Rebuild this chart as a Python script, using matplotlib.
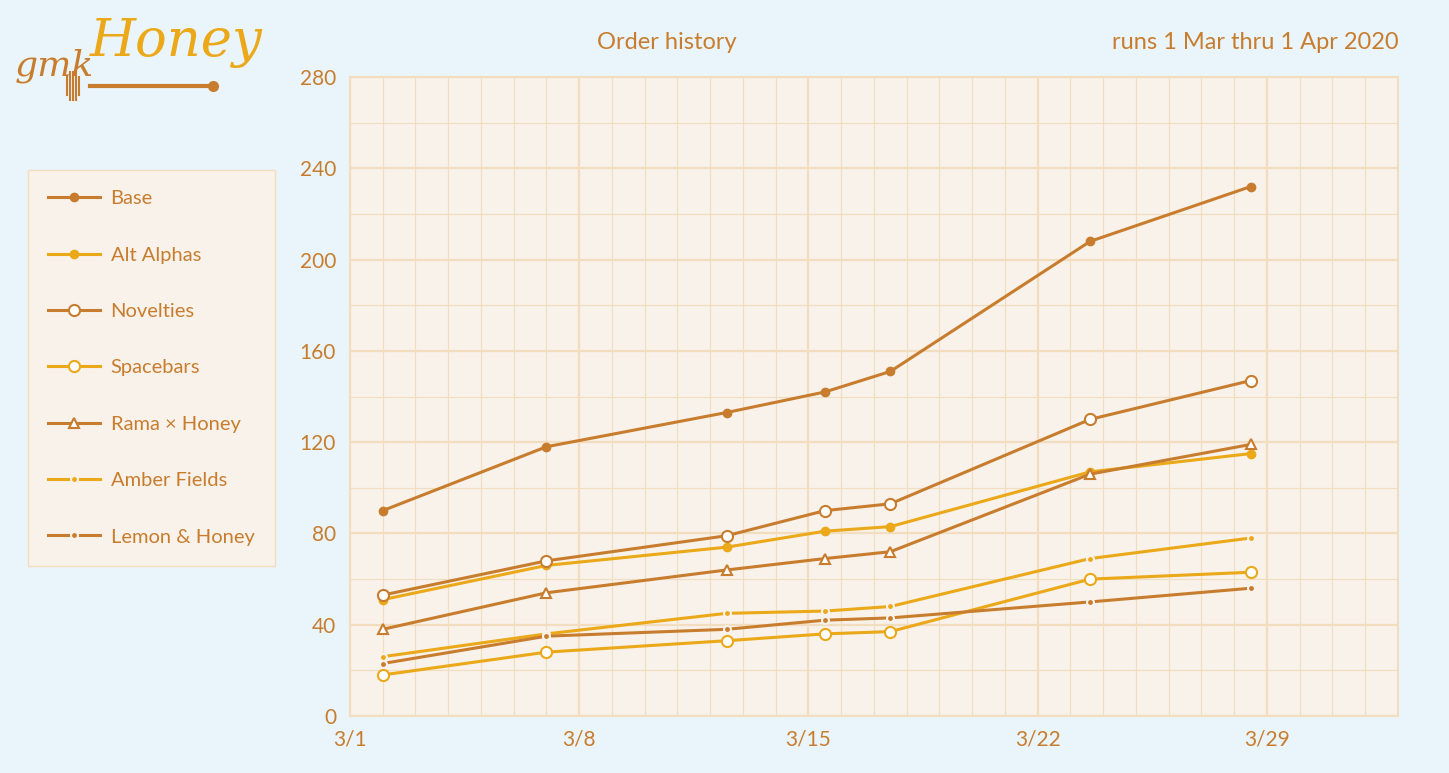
import matplotlib.pyplot as plt
import matplotlib.dates as mdates
from matplotlib.ticker import MultipleLocator
import datetime as dt

plt.rcParams['font.family'] = ['Lato', 'DejaVu Sans']

# 数据 (天数偏移自 3/1)
day_offsets = [1.0, 6.0, 11.5, 14.5, 16.5, 22.6, 27.5]
base = [90, 118, 133, 142, 151, 208, 232]
alt_alphas = [51, 66, 74, 81, 83, 107, 115]
novelties = [53, 68, 79, 90, 93, 130, 147]
spacebars = [18, 28, 33, 36, 37, 60, 63]
rama = [38, 54, 64, 69, 72, 106, 119]
amber = [26, 36, 45, 46, 48, 69, 78]
lemon = [23, 35, 38, 42, 43, 50, 56]
tick_days = [0, 7, 14, 21, 28]

DARK = '#C87D2E'
GOLD = '#EBA818'
BG = '#EAF4FB'
PBG = '#F8F2EA'
GRID = '#F3DDBF'

start = dt.datetime(2020, 3, 1)
dates = [start + dt.timedelta(days=d) for d in day_offsets]

fig = plt.figure(figsize=(14.49, 7.73), dpi=100)
fig.patch.set_facecolor(BG)
ax = fig.add_axes([0.2415, 0.0737, 0.7233, 0.8266])
ax.set_facecolor(PBG)

series = [
    ('Base', base, DARK, dict(marker='o', ms=6, mfc=DARK, mec=DARK)),
    ('Alt Alphas', alt_alphas, GOLD, dict(marker='o', ms=6, mfc=GOLD, mec=GOLD)),
    ('Novelties', novelties, DARK, dict(marker='o', ms=8, mfc='white', mec=DARK, mew=1.5)),
    ('Spacebars', spacebars, GOLD, dict(marker='o', ms=8, mfc='white', mec=GOLD, mew=1.5)),
    ('Rama × Honey', rama, DARK, dict(marker='^', ms=7, mfc='white', mec=DARK, mew=1.5)),
    ('Amber Fields', amber, GOLD, dict(marker='o', ms=5, mfc=GOLD, mec=PBG, mew=1.5)),
    ('Lemon & Honey', lemon, DARK, dict(marker='o', ms=5, mfc=DARK, mec=PBG, mew=1.5)),
]
for name, vals, col, mk in series:
    ax.plot(dates, vals, color=col, lw=2.2, label=name, zorder=3, **mk)

ax.set_xlim(start, dt.datetime(2020, 4, 2))
ax.set_ylim(0, 280)
ax.set_xticks([start + dt.timedelta(days=d) for d in tick_days])
ax.xaxis.set_minor_locator(mdates.DayLocator())
ax.xaxis.set_major_formatter(mdates.DateFormatter('%-m/%-d'))
ax.yaxis.set_major_locator(MultipleLocator(40))
ax.yaxis.set_minor_locator(MultipleLocator(20))
ax.grid(which='major', color=GRID, lw=1.6, zorder=0)
ax.grid(which='minor', color=GRID, lw=0.8, zorder=0)
ax.tick_params(which='both', length=0, colors=DARK, labelsize=15, pad=10)
for s in ax.spines.values():
    s.set_color(GRID)
    s.set_linewidth(1.5)

fig.text(0.46, 0.945, 'Order history', color=DARK, fontsize=17, ha='center', va='center')
fig.text(0.965, 0.945, 'runs 1 Mar thru 1 Apr 2020', color=DARK, fontsize=17, ha='right', va='center')

leg = fig.legend(loc='upper left', bbox_to_anchor=(0.0193, 0.78), fontsize=14.5,
                 labelspacing=1.95, handlelength=2.6, handletextpad=0.5,
                 borderpad=1.0, borderaxespad=0,
                 facecolor=PBG, edgecolor=GRID, framealpha=1, fancybox=False)
for t in leg.get_texts():
    t.set_color(DARK)

# 标志
fig.text(0.010, 0.915, 'gmk', color=DARK, fontsize=26, fontstyle='italic',
         family='DejaVu Serif', ha='left', va='center')
fig.text(0.062, 0.945, 'Honey', color=GOLD, fontsize=38, fontstyle='italic',
         family='DejaVu Serif', ha='left', va='center')
fig.add_artist(plt.Line2D([0.062, 0.146], [0.889, 0.889], color=DARK, lw=3,
                          transform=fig.transFigure))
fig.add_artist(plt.Line2D([0.147], [0.889], color=DARK, marker='o', ms=7,
                          transform=fig.transFigure))
for i in range(5):
    x = 0.046 + i * 0.0022
    h = 0.012 if i in (0, 4) else 0.018
    fig.add_artist(plt.Line2D([x, x], [0.889 - h, 0.889 + h], color=DARK, lw=1.5,
                              transform=fig.transFigure))

plt.savefig('out.png', dpi=100, facecolor=fig.get_facecolor())
